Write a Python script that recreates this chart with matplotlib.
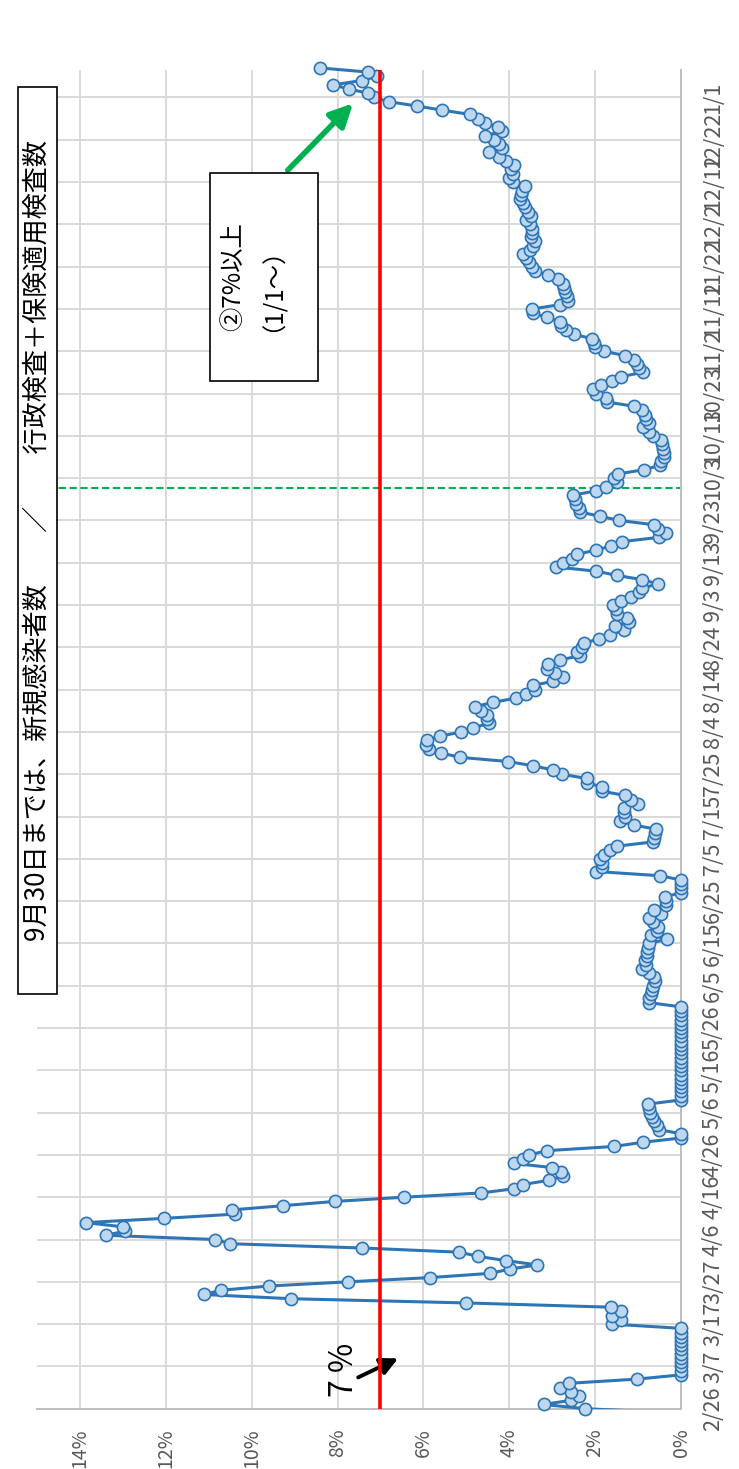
import datetime as dt
import numpy as np
import matplotlib
matplotlib.use('Agg')
import matplotlib.pyplot as plt
from matplotlib.patches import Rectangle

plt.rcParams['font.family'] = ['Noto Sans CJK JP', 'DejaVu Sans']

# Data: daily positive rate (%) from 2/26, one value per day
start = dt.date(2020, 2, 26)
prev_rate = 0.0  # 2/25, below the axis start
rates = [
  2.24, 3.2, 2.56, 2.38, 2.56, 2.83, 2.61, 1.02, 0, 0,
  0, 0, 0, 0, 0, 0, 0, 0, 0, 0,
  1.61, 1.4, 1.61, 1.4, 1.63, 5.0, 9.08, 11.11, 10.72, 9.6,
  7.75, 5.84, 4.44, 3.99, 3.35, 4.07, 4.72, 5.16, 7.44, 10.5,
  10.85, 13.4, 12.94, 13.0, 13.87, 12.04, 10.39, 10.46, 9.28, 8.07,
  6.45, 4.66, 3.89, 3.68, 3.08, 2.75, 2.8, 3.0, 3.9, 3.68,
  3.53, 3.13, 1.56, 0.88, 0, 0, 0.52, 0.57, 0.62, 0.67,
  0.72, 0.75, 0.78, 0, 0, 0, 0, 0, 0, 0,
  0, 0, 0, 0, 0, 0, 0, 0, 0, 0,
  0, 0, 0, 0, 0, 0, 0.74, 0.75, 0.70, 0.67,
  0.65, 0.61, 0.62, 0.75, 0.9, 0.82, 0.83, 0.80, 0.80, 0.77,
  0.74, 0.33, 0.70, 0.56, 0.54, 0.65, 0.74, 0.46, 0.62, 0.35,
  0.34, 0.37, 0, 0, 0, 0, 0.48, 1.97, 1.85, 1.83,
  1.89, 1.8, 1.66, 1.48, 0.66, 0.64, 0.6, 0.58, 1.1, 1.41,
  1.31, 1.33, 1.33, 1.0, 1.16, 1.31, 1.85, 1.85, 2.19, 2.2,
  2.78, 2.97, 3.45, 4.02, 5.15, 5.58, 5.87, 5.95, 5.92, 5.61,
  5.12, 4.84, 4.48, 4.52, 4.53, 4.67, 4.79, 4.38, 3.84, 3.61,
  3.4, 3.45, 2.97, 2.74, 2.93, 3.13, 3.09, 2.83, 2.36, 2.43,
  2.3, 2.26, 1.91, 1.66, 1.33, 1.54, 1.21, 1.26, 1.49, 1.52,
  1.58, 1.4, 1.16, 0.97, 0.9, 0.54, 0.9, 1.49, 1.97, 2.91,
  2.76, 2.55, 2.42, 1.98, 1.62, 1.37, 0.52, 0.36, 0.54, 0.64,
  1.44, 1.89, 2.36, 2.37, 2.45, 2.48, 2.51, 1.98, 1.75, 1.5,
  1.55, 1.47, 0.86, 0.5, 0.46, 0.39, 0.4, 0.42, 0.45, 0.46,
  0.66, 0.75, 0.89, 0.75, 0.81, 0.85, 0.9, 1.1, 1.72, 1.74,
  1.98, 2.05, 1.87, 1.61, 1.4, 0.89, 0.97, 1.02, 1.1, 1.31,
  1.8, 2.0, 2.02, 2.08, 2.49, 2.68, 2.8, 2.82, 3.13, 3.44,
  3.47, 2.83, 2.63, 2.66, 2.7, 2.72, 2.74, 2.86, 3.09, 3.4,
  3.47, 3.55, 3.6, 3.68, 3.52, 3.45, 3.4, 3.5, 3.46, 3.48,
  3.52, 3.6, 3.5, 3.56, 3.64, 3.68, 3.75, 3.72, 3.7, 3.64,
  3.92, 4.0, 3.92, 3.95, 3.88, 4.08, 4.24, 4.48, 4.16, 4.24,
  4.36, 4.56, 4.16, 4.26, 4.56, 4.72, 4.92, 5.56, 6.16, 6.8,
  7.16, 7.28, 7.74, 8.1, 7.44, 7.08, 7.28, 8.42,
]
pct_ticks = [0, 2, 4, 6, 8, 10, 12, 14]
threshold = 7          # 7% line
switch_day = 217.6     # between 9/30 and 10/1
title = '9月30日までは、新規感染者数　　／　　行政検査＋保険適用検査数'
note = '②7%以上\n（1/1〜）'

days = np.arange(len(rates))
tick_days = np.arange(0, 311, 10)
tick_labels = []
for k in tick_days:
  d = start + dt.timedelta(days=int(k))
  tick_labels.append(f'{d.month}/{d.day}')

# Figure (chart drawn turned a quarter turn: days go up, percent goes left)
fig = plt.figure(figsize=(7.39, 14.69), dpi=100)
ax = fig.add_axes([0.05007, 0.04105, 0.87145, 0.9113])
ax.set_xlim(15, 0)
ax.set_ylim(0, 316.5)

ax.plot([prev_rate, rates[0]], [-1, 0], color='#2e75b6', lw=2.2, zorder=3)
ax.plot(rates, days, '-o', color='#2e75b6', lw=2.2, ms=8.8,
        mfc='#bdd7ee', mec='#2e75b6', mew=1.2, clip_on=False, zorder=3)
ax.axvline(threshold, color='#ff0000', lw=2.6, zorder=4)
ax.axhline(switch_day, color='#00b050', lw=1.5, dashes=(3.5, 1.7), zorder=2.5)

# Axes
ax.set_xticks(pct_ticks)
ax.set_xticklabels([f'{v}%' for v in pct_ticks], rotation=90)
ax.yaxis.tick_right()
ax.set_yticks(tick_days)
ax.set_yticklabels(tick_labels, rotation=90, va='center')
ax.tick_params(axis='both', length=0, colors='#595959')
ax.tick_params(axis='x', pad=14, labelsize=14)
ax.tick_params(axis='y', pad=15, labelsize=15.5)
ax.grid(True, color='#d9d9d9', lw=1.4)
ax.set_axisbelow(True)
for s in ['top', 'left']:
  ax.spines[s].set_visible(False)
for s in ['bottom', 'right']:
  ax.spines[s].set_color('#bfbfbf')
  ax.spines[s].set_linewidth(1.4)

# Annotations
ax.text(7.85, 9.1, '7 %', rotation=90, ha='center', va='center', fontsize=23, color='black')
ax.annotate('', xy=(6.59, 11.9), xytext=(7.52, 7.4), annotation_clip=False,
            arrowprops=dict(arrowstyle='-|>', color='black', lw=2.8, mutation_scale=26,
                            shrinkA=0, shrinkB=0))
ax.annotate('', xy=(7.64, 308.6), xytext=(9.16, 292.8), annotation_clip=False,
            arrowprops=dict(arrowstyle='-|>', color='#00b050', lw=4, mutation_scale=34,
                            shrinkA=0, shrinkB=0))

fig.add_artist(Rectangle((0.02436, 0.32335), 0.05277, 0.6174, transform=fig.transFigure,
                         fc='white', ec='black', lw=1.2, zorder=10))
fig.text(0.0507, 0.6324, title, rotation=90, ha='center', va='center', fontsize=18.8, zorder=11)

fig.add_artist(Rectangle((0.2842, 0.7407), 0.1461, 0.1416, transform=fig.transFigure,
                         fc='white', ec='black', lw=1.2, zorder=10))
fig.text(0.334, 0.8115, note, rotation=90, ha='center', va='center', multialignment='center',
         fontsize=17.5, linespacing=1.05, zorder=11)

fig.savefig('out.png', dpi=100)
